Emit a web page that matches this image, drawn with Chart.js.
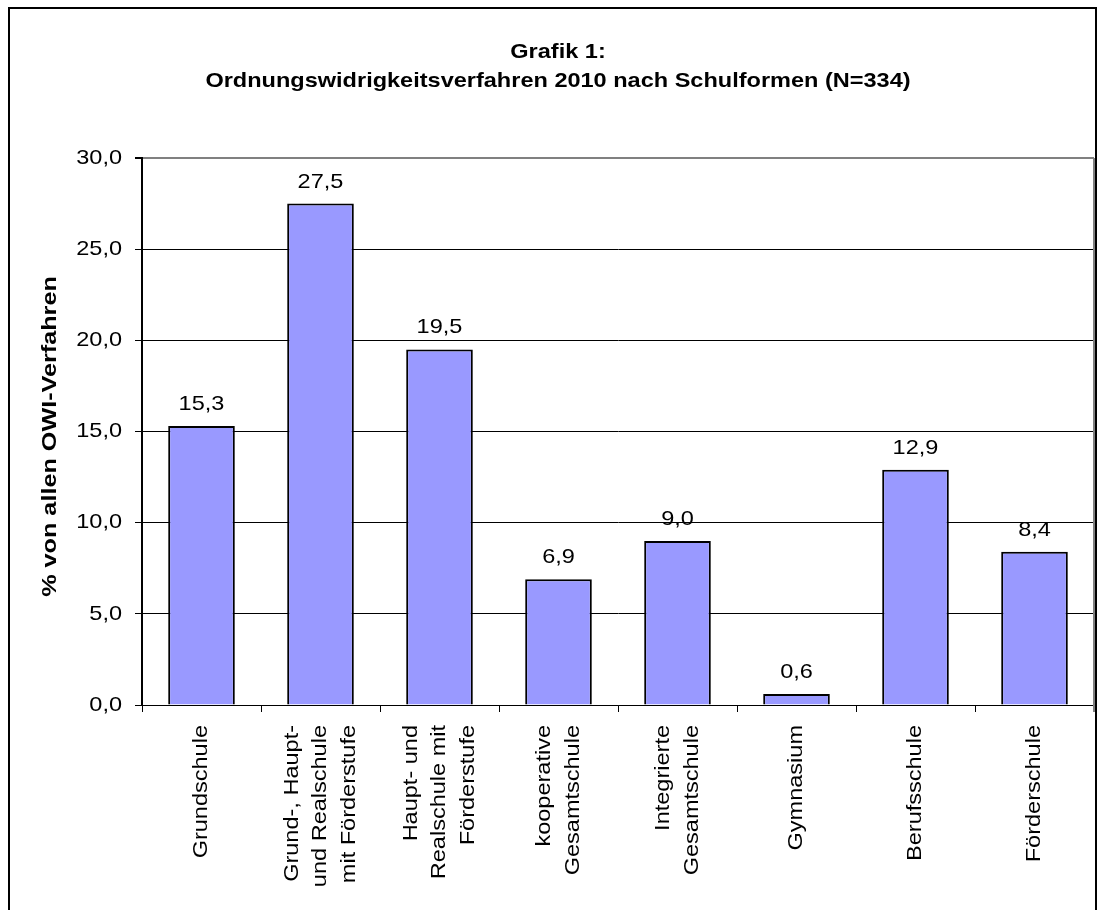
<!DOCTYPE html>
<html>
<head>
<meta charset="utf-8">
<script src="https://cdn.jsdelivr.net/npm/chart.js@4/dist/chart.umd.min.js"></script>
<style>
  html, body { margin: 0; padding: 0; background: #fff; }
  #wrap { width: 1107px; height: 910px; }
</style>
</head>
<body>
<div id="wrap"><canvas id="myChart" width="1107" height="910"></canvas></div>
<script>
var titelZeilen = ['Grafik 1:', 'Ordnungswidrigkeitsverfahren 2010 nach Schulformen (N=334)'];
var yTitel = '% von allen OWI-Verfahren';
var schulformen = [
    ['Grundschule'],
    ['Grund-, Haupt-', 'und Realschule', 'mit Förderstufe'],
    ['Haupt- und', 'Realschule mit', 'Förderstufe'],
    ['kooperative', 'Gesamtschule'],
    ['Integrierte', 'Gesamtschule'],
    ['Gymnasium'],
    ['Berufsschule'],
    ['Förderschule']
];
var anteile = [15.3, 27.5, 19.5, 6.9, 9.0, 0.6, 12.9, 8.4];
var yTicks = [0, 5, 10, 15, 20, 25, 30];

var FONT = 'Liberation Sans, Arial, sans-serif';
var STRETCH = 1.12; // the original text is drawn a bit wider than Arial

function komma(v) {
    return v.toFixed(1).replace('.', ',');
}

function text(c, str, x, y, align, baseline, bold, rot, stretch) {
    c.save();
    c.translate(x, y);
    if (rot) c.rotate(rot);
    c.scale(stretch || STRETCH, 1);
    c.font = (bold ? 'bold ' : '') + '21px ' + FONT;
    c.fillStyle = '#000';
    c.textAlign = align;
    c.textBaseline = baseline;
    c.fillText(str, 0, 0);
    c.restore();
}

// white background, outer frame, title
var framePlugin = {
    id: 'frame',
    beforeDraw: function (chart) {
        var c = chart.ctx;
        c.save();
        c.fillStyle = '#fff';
        c.fillRect(0, 0, chart.width, chart.height);
        c.strokeStyle = '#000';
        c.lineWidth = 2;
        c.strokeRect(9, 8, 1087, 1000);
        c.restore();
        titelZeilen.forEach(function (z, i) {
            text(c, z, 558, 52 + i * 29, 'center', 'middle', true);
        });
    },
    afterDraw: function (chart) {
        var a = chart.chartArea;
        var c = chart.ctx;
        c.save();
        c.strokeStyle = '#808080';
        c.lineWidth = 2;
        c.beginPath();
        c.moveTo(a.right, a.top);
        c.lineTo(a.right, a.bottom + 7);
        c.stroke();
        c.restore();
    }
};

// y tick labels and y title
var yAxisPlugin = {
    id: 'yachse',
    afterDraw: function (chart) {
        var c = chart.ctx;
        var ys = chart.scales.y;
        var a = chart.chartArea;
        yTicks.forEach(function (v) {
            text(c, komma(v), 122, ys.getPixelForValue(v), 'right', 'middle', false);
        });
        text(c, yTitel, 50, (a.top + a.bottom) / 2 + 5, 'center', 'middle', true, -Math.PI / 2, 1.2);
    }
};

// values above bars
var valuePlugin = {
    id: 'werte',
    afterDatasetsDraw: function (chart) {
        var c = chart.ctx;
        var meta = chart.getDatasetMeta(0);
        meta.data.forEach(function (bar, i) {
            text(c, komma(anteile[i]), bar.x, bar.y - 16, 'center', 'alphabetic', false);
        });
    }
};

// rotated, centered multi-line category labels
var labelPlugin = {
    id: 'xlabels',
    afterDraw: function (chart) {
        var c = chart.ctx;
        var xs = chart.scales.x;
        var top = chart.chartArea.bottom + 20;
        var gap = 28.5;
        schulformen.forEach(function (lines, i) {
            var x = xs.getPixelForValue(i);
            lines.forEach(function (line, j) {
                var lx = x + (j - (lines.length - 1) / 2) * gap;
                text(c, line, lx, top, 'right', 'middle', false, -Math.PI / 2);
            });
        });
    }
};

var ctx = document.getElementById('myChart').getContext('2d');
var myChart = new Chart(ctx, {
    type: 'bar',
    data: {
        labels: schulformen,
        datasets: [{
            label: yTitel,
            data: anteile,
            backgroundColor: '#9999FF',
            borderColor: '#000',
            borderWidth: 2,
            borderSkipped: 'bottom',
            categoryPercentage: 1.0,
            barPercentage: 0.56
        }]
    },
    options: {
        responsive: false,
        animation: false,
        layout: { padding: { left: 0, right: 13, top: 158, bottom: 0 } },
        plugins: {
            legend: { display: false },
            tooltip: { enabled: false },
            title: { display: false }
        },
        scales: {
            x: {
                offset: true,
                afterFit: function (scale) { scale.height = 205; },
                ticks: { display: false },
                grid: {
                    offset: true,
                    drawOnChartArea: false,
                    drawTicks: true,
                    tickLength: 7,
                    color: '#000',
                    tickColor: '#000'
                },
                border: { display: true, color: '#000', width: 1 }
            },
            y: {
                min: 0,
                max: 30,
                afterFit: function (scale) { scale.width = 142; },
                afterBuildTicks: function (scale) {
                    scale.ticks = yTicks.map(function (v) { return { value: v }; });
                },
                ticks: { display: false },
                grid: {
                    color: function (c) { return c.tick && c.tick.value === 30 ? '#808080' : '#000'; },
                    lineWidth: function (c) { return c.tick && c.tick.value === 30 ? 2 : 1; },
                    tickColor: '#000',
                    drawTicks: true,
                    tickLength: 7
                },
                border: { display: true, color: '#000', width: 2 }
            }
        }
    },
    plugins: [framePlugin, yAxisPlugin, valuePlugin, labelPlugin]
});
</script>
</body>
</html>
